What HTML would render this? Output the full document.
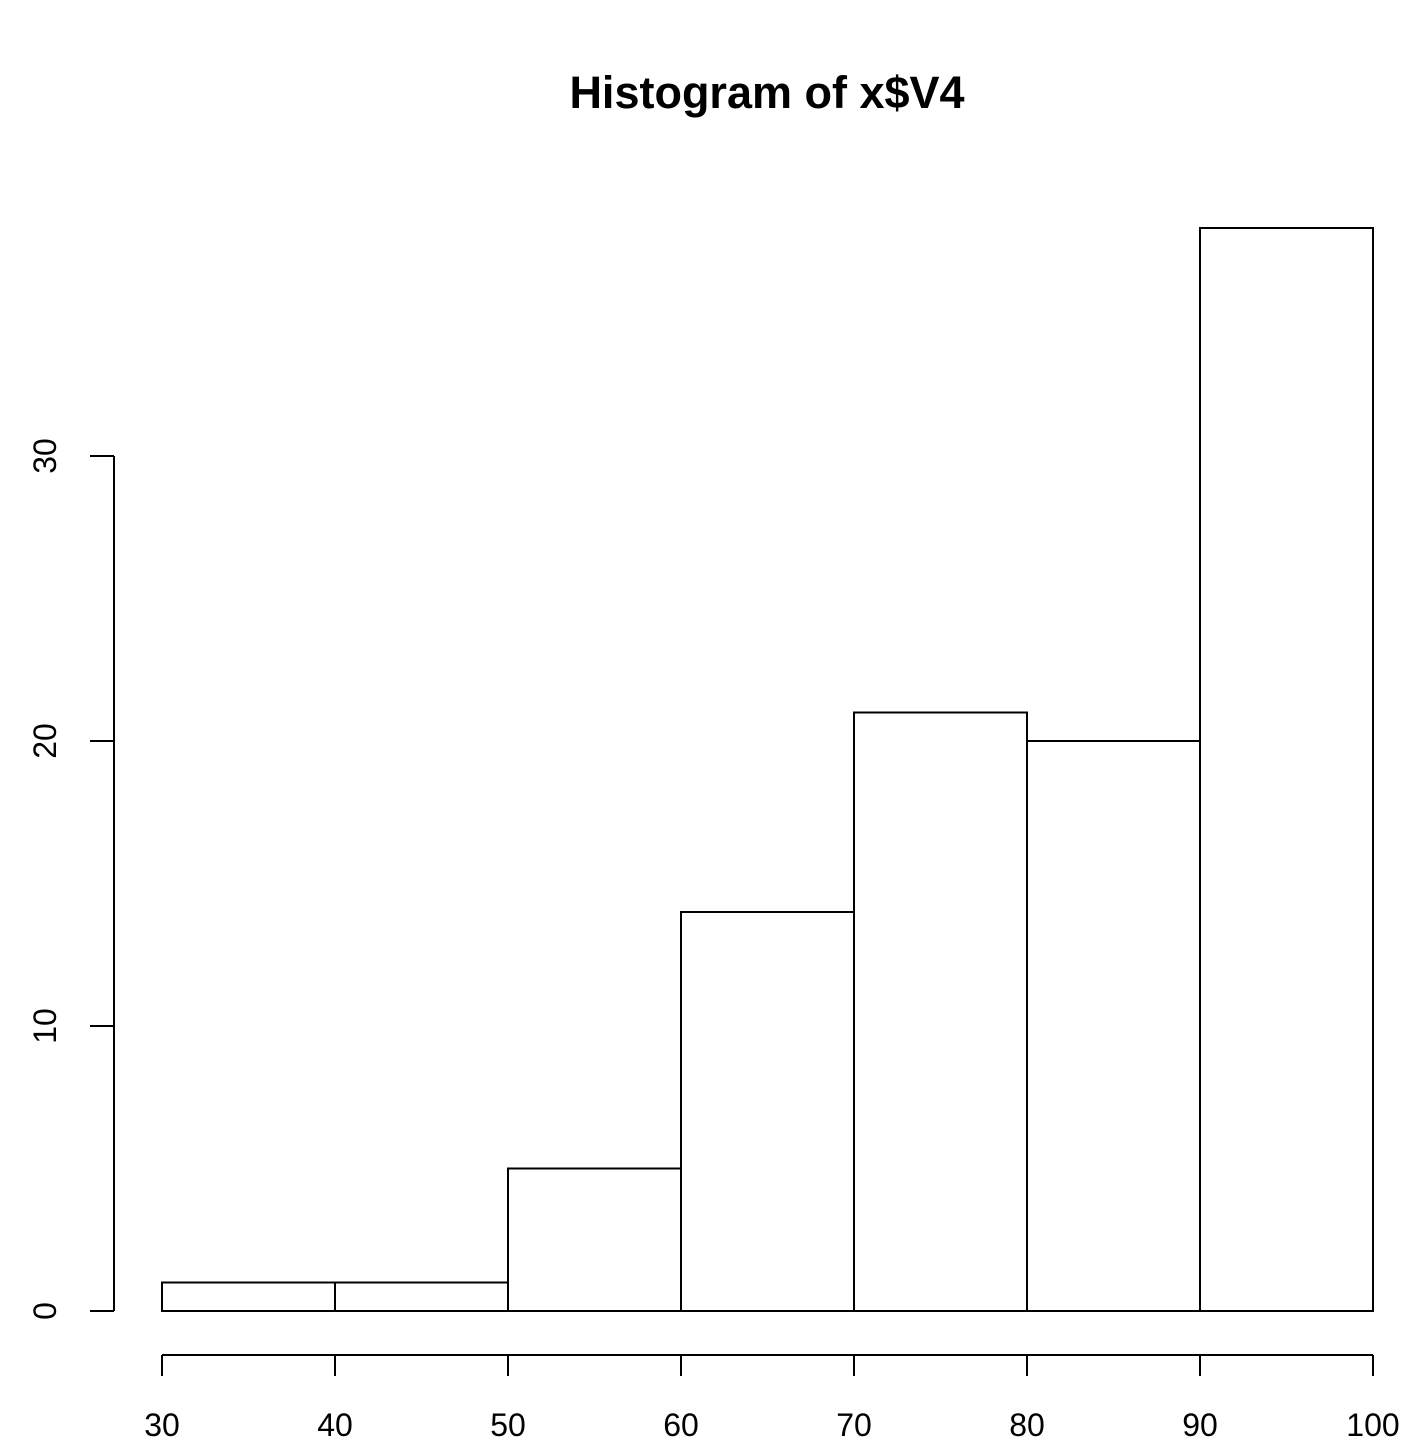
<!DOCTYPE html>
<html><head><meta charset="utf-8"><style>
html,body{margin:0;padding:0;background:#fff;}
svg{display:block;font-family:"Liberation Sans",Arial,sans-serif;}
</style></head><body>
<svg id="chart" width="1406" height="1446" viewBox="0 0 1406 1446" xmlns="http://www.w3.org/2000/svg">
<text x="767" y="108" text-anchor="middle" font-size="45" font-weight="bold">Histogram of x$V4</text>
<g id="bars"></g>
<g id="xaxis"></g>
<g id="yaxis"></g>
</svg>
<script>
const binEdges = [30, 40, 50, 60, 70, 80, 90, 100];
const counts = [1, 1, 5, 14, 21, 20, 38];
const xTicks = [30, 40, 50, 60, 70, 80, 90, 100];
const yTicks = [0, 10, 20, 30];

const NS = "http://www.w3.org/2000/svg";
const xS = v => 162 + (v - 30) * (1373 - 162) / 70;
const yS = v => 1311 - v * 28.5;
function mk(tag, attrs, parent) {
  const e = document.createElementNS(NS, tag);
  for (const k in attrs) e.setAttribute(k, attrs[k]);
  parent.appendChild(e);
  return e;
}
const bars = document.getElementById('bars');
counts.forEach((c, i) => {
  const x0 = xS(binEdges[i]), x1 = xS(binEdges[i + 1]);
  const r = mk('rect', {x: x0, y: yS(c), width: x1 - x0, height: yS(0) - yS(c), fill: '#fff', stroke: '#000', 'stroke-width': 2}, bars);
  
  
});
const xa = document.getElementById('xaxis');


mk('line', {x1: xS(xTicks[0]), x2: xS(xTicks[xTicks.length - 1]), y1: 1355, y2: 1355, stroke: '#000', 'stroke-width': 2}, xa);
xTicks.forEach(t => {
  mk('line', {x1: xS(t), x2: xS(t), y1: 1355, y2: 1376, stroke: '#000', 'stroke-width': 2}, xa);
  const tx = mk('text', {x: xS(t), y: 1436, 'text-anchor': 'middle', 'font-size': 32}, xa);
  tx.textContent = t;
  
  
});
const ya = document.getElementById('yaxis');


mk('line', {x1: 114, x2: 114, y1: yS(yTicks[0]), y2: yS(yTicks[yTicks.length - 1]), stroke: '#000', 'stroke-width': 2}, ya);
yTicks.forEach(t => {
  mk('line', {x1: 90, x2: 114, y1: yS(t), y2: yS(t), stroke: '#000', 'stroke-width': 2}, ya);
  const tx = mk('text', {x: 56, y: yS(t), 'text-anchor': 'middle', 'font-size': 32, transform: 'rotate(-90 56 ' + yS(t) + ')'}, ya);
  tx.textContent = t;
  
  
});
</script>
</body></html>
